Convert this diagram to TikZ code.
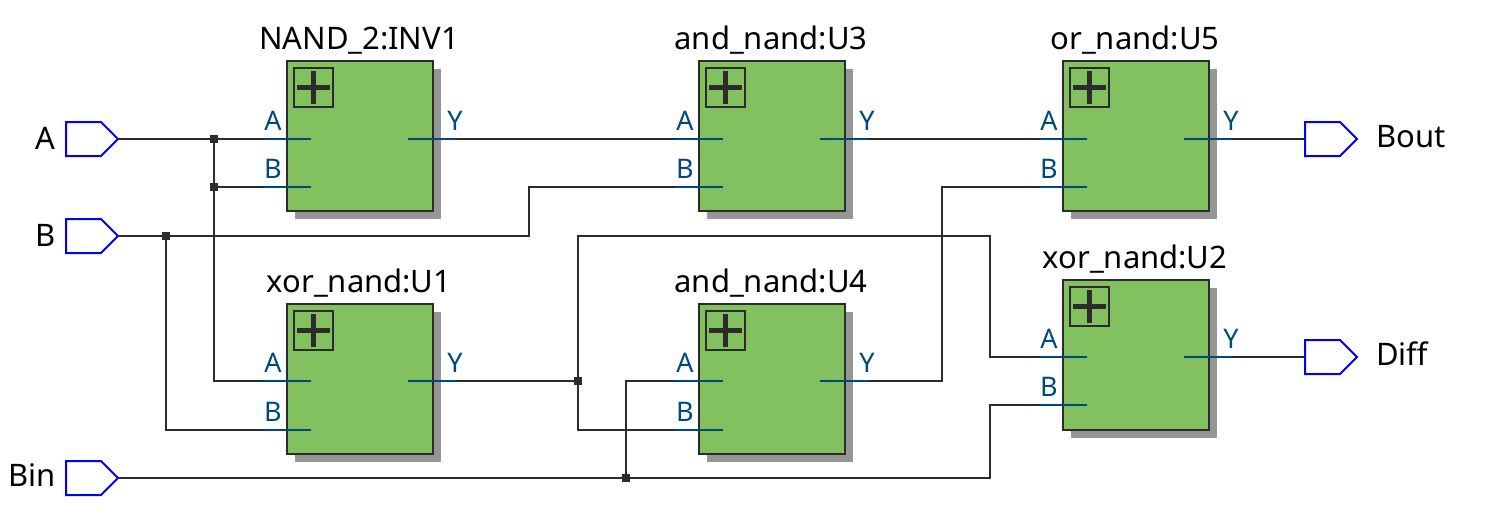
\documentclass[tikz,border=0pt]{standalone}
\usepackage{fontspec}
\setmainfont{Noto Sans}
\definecolor{wire}{HTML}{2B2B2B}
\definecolor{portc}{HTML}{004A7A}
\definecolor{fillg}{HTML}{83C060}
\definecolor{shad}{HTML}{969696}
\tikzset{
  x=1pt,y=-1pt,
  wirel/.style={draw=wire,line width=2pt},
  stub/.style={draw=portc,line width=2pt},
  dotj/.style={fill=wire,inner sep=0pt,minimum size=8pt,draw=none,shape=rectangle},
  pin/.style={draw=blue,line width=2pt,fill=white},
  title/.style={font=\fontsize{31}{31}\selectfont,text=black,inner sep=0pt},
  plab/.style={font=\fontsize{27}{27}\selectfont,text=portc,inner sep=0pt},
  iolab/.style={font=\fontsize{31}{31}\selectfont,text=black,inner sep=0pt},
}
\newcommand{\blockat}[6]{% x, y, name, title, yA, yB
  \fill[shad] (#1+8,#2+8) rectangle (#1+154,#2+158);
  \draw[draw=wire,line width=2pt,fill=fillg] (#1,#2) rectangle (#1+146,#2+150);
  \draw[draw=wire,line width=2pt] (#1+7,#2+7) rectangle (#1+46,#2+46);
  \draw[draw=wire,line width=5pt] (#1+10,#2+26.5) -- (#1+43,#2+26.5);
  \draw[draw=wire,line width=5pt] (#1+26.5,#2+10) -- (#1+26.5,#2+43);
  \node[title,anchor=base] at (#1+72,#2-12) {#4};
  \coordinate (#3A) at (#1-24,#5);
  \coordinate (#3B) at (#1-24,#6);
  \coordinate (#3Y) at (#1+170,#5);
  \draw[stub] (#1-24,#5) -- (#1+24,#5);
  \draw[stub] (#1-24,#6) -- (#1+24,#6);
  \draw[stub] (#1+121,#5) -- (#1+170,#5);
  \node[plab,anchor=base] at (#1-14,#5-9) {A};
  \node[plab,anchor=base] at (#1-14,#6-9) {B};
  \node[plab,anchor=base] at (#1+168,#5-9) {Y};
}
\newcommand{\pinat}[3]{% x, y, name
  \draw[pin] (#1,#2-17) -- (#1+35,#2-17) -- (#1+52,#2) -- (#1+35,#2+17) -- (#1,#2+17) -- cycle;
  \coordinate (#3L) at (#1,#2);
  \coordinate (#3R) at (#1+52,#2);
}
\begin{document}
\begin{tikzpicture}
\useasboundingbox (0,0) rectangle (1497,530);
\blockat{287}{61}{I}{NAND\_2:INV1}{139}{187}
\blockat{699}{61}{Uc}{and\_nand:U3}{139}{187}
\blockat{1063}{61}{Ue}{or\_nand:U5}{139}{187}
\blockat{287}{304}{Ua}{xor\_nand:U1}{381}{430}
\blockat{699}{304}{Ud}{and\_nand:U4}{381}{430}
\blockat{1063}{280}{Ub}{xor\_nand:U2}{357}{405}
\pinat{66}{139}{pa}
\pinat{66}{236}{pb}
\pinat{66}{478}{pc}
\pinat{1305}{139}{po}
\pinat{1305}{357}{pd}
\node[iolab,anchor=base east] at (56,149) {A};
\node[iolab,anchor=base east] at (56,246) {B};
\node[iolab,anchor=base east] at (56,486) {Bin};
\node[iolab,anchor=base west] at (1376,147) {Bout};
\node[iolab,anchor=base west] at (1376,365) {Diff};
\coordinate (ja) at (214,139);
\coordinate (jb) at (214,187);
\coordinate (jc) at (166,236);
\coordinate (jd) at (578,381);
\coordinate (je) at (626,478);
\draw[wirel] (paR) -- (IA);
\draw[wirel] (ja) -- (ja |- UaA) -- (UaA);
\draw[wirel] (jb) -- (IB);
\draw[wirel] (pbR) -- (529,236) -- (529,187) -- (UcB);
\draw[wirel] (jc) -- (jc |- UaB) -- (UaB);
\draw[wirel] (IY) -- (UcA);
\draw[wirel] (UcY) -- (UeA);
\draw[wirel] (UeY) -- (poL);
\draw[wirel] (UbY) -- (pdL);
\draw[wirel] (UaY) -- (jd);
\draw[wirel] (jd) -- (578,236) -- (990,236) -- (990,357) -- (UbA);
\draw[wirel] (jd) -- (jd |- UdB) -- (UdB);
\draw[wirel] (UdY) -- (942,381) -- (942,187) -- (UeB);
\draw[wirel] (pcR) -- (990,478) -- (990,405) -- (UbB);
\draw[wirel] (je) -- (je |- UdA) -- (UdA);
\foreach \j in {ja,jb,jc,jd,je} \node[dotj] at (\j) {};
\end{tikzpicture}
\end{document}
